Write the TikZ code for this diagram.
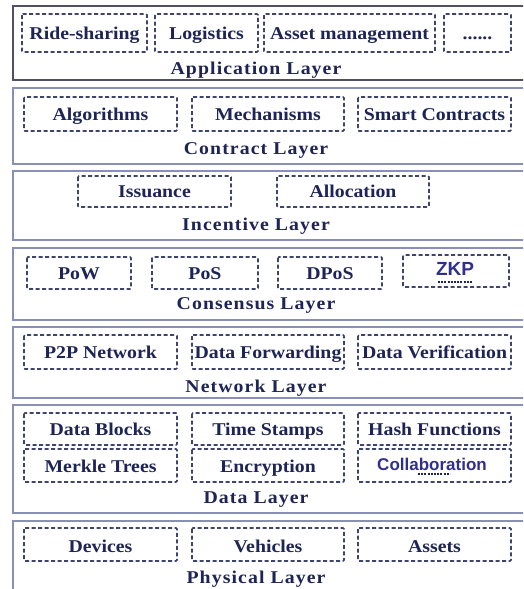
\documentclass[tikz,border=0pt]{standalone}
\usepackage{fontspec}
\setmainfont{Liberation Serif}
\newfontfamily\itemfont[FakeStretch=1.1]{Liberation Serif}
\newfontfamily\layerfont[FakeStretch=1.1,LetterSpace=6]{Liberation Serif}
\newfontfamily\blueitemfont{Liberation Sans}
\definecolor{navytext}{RGB}{30,36,86}
\definecolor{dashnavy}{RGB}{62,68,110}
\definecolor{appframe}{RGB}{80,80,96}
\definecolor{layerframe}{RGB}{136,144,182}
\definecolor{zkpblue}{RGB}{48,48,140}
\begin{document}
\begin{tikzpicture}[x=1pt,y=-1pt,
    itembox/.style={draw=dashnavy,line width=1.6pt,dash pattern=on 4pt off 2.5pt,rounded corners=1pt},
    itemtext/.style={text=navytext,font=\itemfont\bfseries\fontsize{18}{20}\selectfont,inner sep=0pt,text height=12pt,text depth=0pt},
    bluetext/.style={text=zkpblue,font=\blueitemfont\bfseries\fontsize{18}{20}\selectfont,inner sep=0pt,text height=12pt,text depth=0pt},
    layertext/.style={text=navytext,font=\layerfont\bfseries\fontsize{18}{20}\selectfont,inner sep=0pt,text height=12pt,text depth=0pt},
    layerbox/.style={draw=layerframe,line width=1.8pt},
    squiggle/.style={draw=navytext,line width=1.5pt,dash pattern=on 2pt off 1.2pt}]
    \useasboundingbox (0,0) rectangle (523,589);
    \clip (0,0) rectangle (523,589);
    \fill[white] (0,0) rectangle (523,589);

    % the application layer and its blocks
    \draw[draw=appframe,line width=2.2pt] (13,6) rectangle (530,80);
    \draw[itembox] (22,14) rectangle (147,52);
    \draw (84.5,33) node[itemtext] (ride) {Ride-sharing};
    \draw[itembox] (155,14) rectangle (258,52);
    \draw (206.5,33) node[itemtext] (logistics) {Logistics};
    \draw[itembox] (264,14) rectangle (435,52);
    \draw (349.5,33) node[itemtext] (asset) {Asset management};
    \draw[itembox] (444,14) rectangle (511,52);
    \draw (477.5,33) node[itemtext] (more) {......};
    \draw (256,68) node[layertext] (application) {Application Layer};

    % the contract layer
    \draw[layerbox] (13,88) rectangle (530,164);
    \draw[itembox] (24,97) rectangle (177,131);
    \draw (100.5,114) node[itemtext] (algorithms) {Algorithms};
    \draw[itembox] (192,97) rectangle (344,131);
    \draw (268,114) node[itemtext] (mechanisms) {Mechanisms};
    \draw[itembox] (358,97) rectangle (511,131);
    \draw (434.5,114) node[itemtext] (smart) {Smart Contracts};
    \draw (256,148) node[layertext] (contract) {Contract Layer};

    % the incentive layer
    \draw[layerbox] (13,171) rectangle (530,240);
    \draw[itembox] (78,176) rectangle (231,207);
    \draw (154.5,191.5) node[itemtext] (issuance) {Issuance};
    \draw[itembox] (277,176) rectangle (429,207);
    \draw (353,191.5) node[itemtext] (allocation) {Allocation};
    \draw (256,224) node[layertext] (incentive) {Incentive Layer};

    % the consensus layer
    \draw[layerbox] (13,248) rectangle (530,320);
    \draw[itembox] (27,257) rectangle (131,289);
    \draw (79,273) node[itemtext] (pow) {PoW};
    \draw[itembox] (152,257) rectangle (258,289);
    \draw (205,273) node[itemtext] (pos) {PoS};
    \draw[itembox] (278,257) rectangle (382,289);
    \draw (330,273) node[itemtext] (dpos) {DPoS};
    \draw[itembox] (403,255) rectangle (509,287);
    \draw (455,269) node[bluetext,font=\blueitemfont\bfseries\fontsize{19}{20}\selectfont] (zkp) {ZKP};
        % spell check marks
    \draw[squiggle] (438,282) -- (472,282);
    \draw (256,303) node[layertext] (consensus) {Consensus Layer};

    % the network layer
    \draw[layerbox] (13,327) rectangle (530,398);
    \draw[itembox] (24,335) rectangle (177,369);
    \draw (100.5,352) node[itemtext] (p2p) {P2P Network};
    \draw[itembox] (192,335) rectangle (344,369);
    \draw (268,352) node[itemtext] (forwarding) {Data Forwarding};
    \draw[itembox] (358,335) rectangle (511,369);
    \draw (434.5,352) node[itemtext] (verification) {Data Verification};
    \draw (256,386) node[layertext] (network) {Network Layer};

    % the data layer, two rows
    \draw[layerbox] (13,405) rectangle (530,513);
    \draw[itembox] (24,413) rectangle (177,445);
    \draw (100.5,429) node[itemtext] (blocks) {Data Blocks};
    \draw[itembox] (192,413) rectangle (344,445);
    \draw (268,429) node[itemtext] (stamps) {Time Stamps};
    \draw[itembox] (358,413) rectangle (511,445);
    \draw (434.5,429) node[itemtext] (hash) {Hash Functions};
    \draw[itembox] (24,449) rectangle (177,482);
    \draw (100.5,466) node[itemtext] (merkle) {Merkle Trees};
    \draw[itembox] (192,449) rectangle (344,482);
    \draw (268,466) node[itemtext] (encryption) {Encryption};
    \draw[itembox] (358,449) rectangle (511,482);
    \draw (432,464) node[bluetext,font=\blueitemfont\bfseries\fontsize{17}{20}\selectfont] (collaboration) {Collaboration};
        % spell check marks
    \draw[squiggle] (418,474) -- (450,474);
    \draw (256,497) node[layertext] (data) {Data Layer};

    % the physical layer
    \draw[layerbox] (13,521) rectangle (530,595);
    \draw[itembox] (24,528) rectangle (177,561);
    \draw (100.5,546) node[itemtext] (devices) {Devices};
    \draw[itembox] (192,528) rectangle (344,561);
    \draw (268,546) node[itemtext] (vehicles) {Vehicles};
    \draw[itembox] (358,528) rectangle (511,561);
    \draw (434.5,546) node[itemtext] (assets) {Assets};
    \draw (256,577) node[layertext] (physical) {Physical Layer};
\end{tikzpicture}
\end{document}
